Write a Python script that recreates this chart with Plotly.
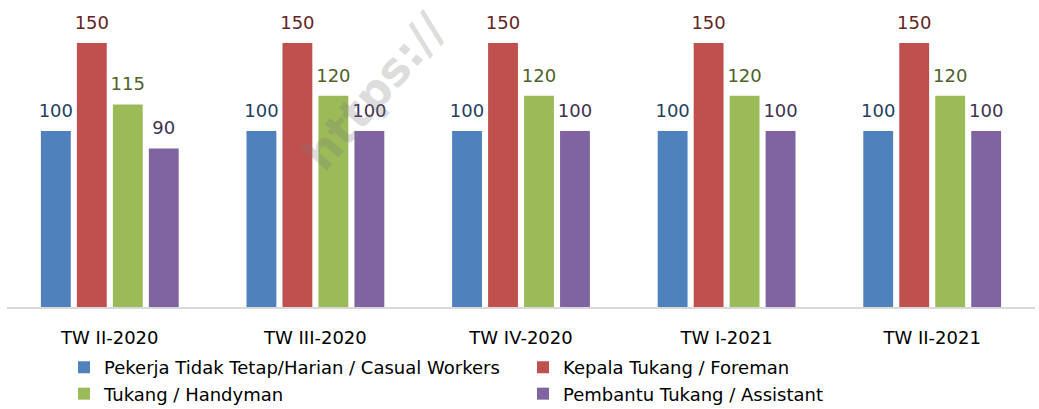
import plotly.graph_objects as go

categories = ["TW II-2020", "TW III-2020", "TW IV-2020", "TW I-2021", "TW II-2021"]
series_names = [
    "Pekerja Tidak Tetap/Harian / Casual Workers",
    "Kepala Tukang / Foreman",
    "Tukang / Handyman",
    "Pembantu Tukang / Assistant",
]
casual = [100, 100, 100, 100, 100]
foreman = [150, 150, 150, 150, 150]
handyman = [115, 120, 120, 120, 120]
assistant = [90, 100, 100, 100, 100]

bar_colors = ["#4F81BD", "#C0504D", "#9BBB59", "#8064A2"]
label_colors = ["#243F60", "#632423", "#4F6228", "#3F3151"]

FONT = "DejaVu Sans"
fig = go.Figure()
series = [casual, foreman, handyman, assistant]
for name, vals, bc in zip(series_names, series, bar_colors):
    fig.add_trace(go.Bar(
        x=categories, y=vals, name=name,
        marker=dict(color=bc, line=dict(width=0)),
        hoverinfo="skip",
    ))
# value labels, grouped like the bars
for name, vals, lc in zip(series_names, series, label_colors):
    fig.add_trace(go.Scatter(
        x=categories, y=vals, mode="markers+text", showlegend=False,
        marker=dict(size=14, opacity=0), hoverinfo="skip",
        text=[str(v) for v in vals], textposition="top center",
        textfont=dict(family=FONT, size=18, color=lc), cliponaxis=False,
    ))

fig.update_layout(
    width=1039, height=409,
    margin=dict(l=7, r=4, t=0, b=102, autoexpand=False),
    paper_bgcolor="white", plot_bgcolor="white",
    barmode="group", bargap=0.3, bargroupgap=0.17,
    scattermode="group", scattergap=0.3,
    font=dict(family=FONT, size=18, color="black"),
    xaxis=dict(showline=True, linecolor="#D9D9D9", linewidth=1.5, ticks="",
               tickfont=dict(family=FONT, size=18, color="black"), ticklabelstandoff=14),
    yaxis=dict(range=[0, 174.4], visible=False, showgrid=False),
    showlegend=True,
    legend=dict(orientation="h", x=(64 - 7) / 1028, xanchor="left",
                y=-0.137, yanchor="top",
                entrywidth=414, entrywidthmode="pixels", traceorder="normal",
                font=dict(family=FONT, size=18, color="black"), itemclick=False),
    annotations=[dict(
        text="<b>https://</b>", xref="paper", yref="paper",
        x=(374 - 7) / 1028, y=1 - 92 / 307, xanchor="center", yanchor="middle",
        showarrow=False, textangle=-49,
        font=dict(family=FONT, size=46, color="rgba(120,120,120,0.26)"),
    )],
)

fig.write_html("out.html", config={"displayModeBar": False},
               post_script="document.body.style.margin='0';")
